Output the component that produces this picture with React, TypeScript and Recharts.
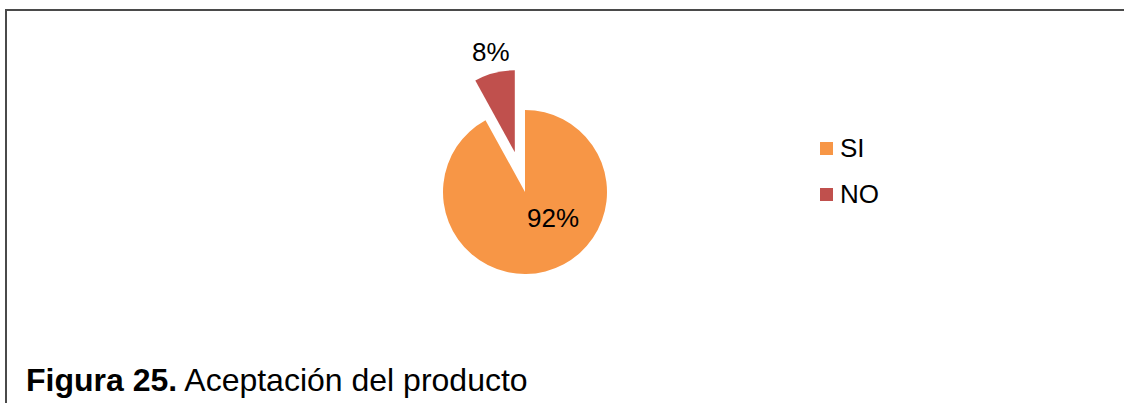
import { PieChart, Pie, Cell, Legend } from "recharts";

const categories = ["SI", "NO"];
const values = [92, 8];
const percentLabels = ["92%", "8%"];

const COLORS = ["#F79646", "#C0504D"];
const FONT = '"Liberation Sans", Arial, sans-serif';

const W = 1124;
const H = 403;
const CX = 525;
const CY = 192;
const R = 82;
const EXPLODE = 41;
// label offsets from each slice's own centre (best-fit placement like Excel)
const LABEL_OFFSETS = [
  { dx: 28, dy: 26 },
  { dx: -24, dy: -100 },
];

const data = categories.map((name, i) => ({ name, value: values[i] }));

const total = values.reduce((a, b) => a + b, 0);
const noStart = 90 - (360 * values[0]) / total;
const noMid = noStart - (360 * values[1]) / total / 2;
const rad = (noMid * Math.PI) / 180;
const explodeCx = CX + EXPLODE * Math.cos(rad);
const explodeCy = CY - EXPLODE * Math.sin(rad);

function makeLabel(idx: number) {
  return (props: any) => {
    if (props.index !== idx) return null;
    const off = LABEL_OFFSETS[idx];
    return (
      <text
        x={props.cx + off.dx}
        y={props.cy + off.dy}
        textAnchor="middle"
        dominantBaseline="central"
        fontFamily={FONT}
        fontSize={26}
        fill="#000"
      >
        {percentLabels[idx]}
      </text>
    );
  };
}

function LegendBox() {
  return (
    <div style={{ fontFamily: FONT, fontSize: 26, color: "#000" }}>
      {categories.map((c, i) => (
        <div
          key={c}
          style={{ display: "flex", alignItems: "center", height: 45.5 }}
        >
          <span
            style={{
              width: 13,
              height: 13,
              background: COLORS[i],
              display: "inline-block",
              marginRight: 7,
            }}
          />
          <span>{c}</span>
        </div>
      ))}
    </div>
  );
}

export default function App() {
  return (
    <div
      style={{
        position: "absolute",
        left: 0,
        top: 0,
        width: W,
        height: H,
        background: "#fff",
        overflow: "hidden",
      }}
    >
      <div
        style={{
          position: "absolute",
          left: 5,
          top: 9,
          width: 1400,
          height: 600,
          borderTop: "2px solid #4a4a4a",
          borderLeft: "2px solid #4a4a4a",
        }}
      />
      <div style={{ position: "absolute", left: 0, top: 0 }}>
        <PieChart
          width={W}
          height={H}
          margin={{ top: 0, right: 0, bottom: 0, left: 0 }}
        >
          <Pie
            data={data}
            dataKey="value"
            nameKey="name"
            cx={CX}
            cy={CY}
            outerRadius={R}
            startAngle={90}
            endAngle={-270}
            stroke="none"
            isAnimationActive={false}
            labelLine={false}
            label={makeLabel(0)}
          >
            {data.map((d, i) => (
              <Cell key={d.name} fill={i === 0 ? COLORS[0] : "transparent"} />
            ))}
          </Pie>
          <Pie
            data={data}
            dataKey="value"
            nameKey="name"
            cx={explodeCx}
            cy={explodeCy}
            outerRadius={R}
            startAngle={90}
            endAngle={-270}
            stroke="none"
            isAnimationActive={false}
            labelLine={false}
            label={makeLabel(1)}
            legendType="none"
          >
            {data.map((d, i) => (
              <Cell key={d.name} fill={i === 1 ? COLORS[1] : "transparent"} />
            ))}
          </Pie>
          <Legend
            content={<LegendBox />}
            layout="vertical"
            wrapperStyle={{ left: 820, top: 126, width: 120 }}
          />
        </PieChart>
      </div>
      <div
        style={{
          position: "absolute",
          left: 26,
          top: 362,
          fontFamily: FONT,
          fontSize: 32,
          color: "#000",
          whiteSpace: "nowrap",
        }}
      >
        <b>Figura 25.</b> Aceptación del producto
      </div>
    </div>
  );
}
